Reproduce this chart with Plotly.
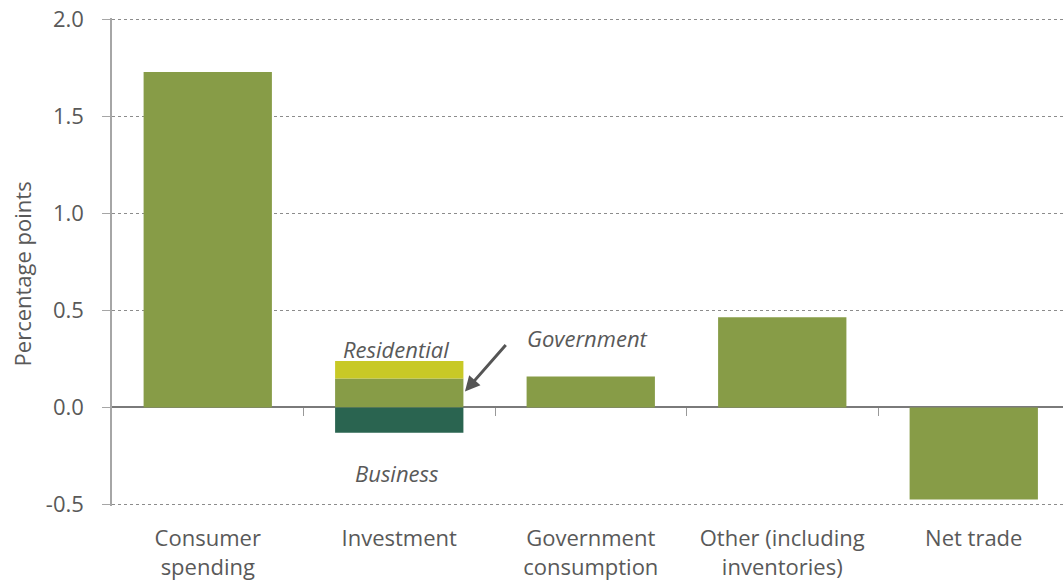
import plotly.graph_objects as go

categories = ["Consumer<br>spending", "Investment", "Government<br>consumption",
              "Other (including<br>inventories)", "Net trade"]
main_values = [1.73, 0.15, 0.16, 0.465, -0.475]
residential = [0, 0.09, 0, 0, 0]
business = [0, -0.13, 0, 0, 0]
y_ticks = [-0.5, 0.0, 0.5, 1.0, 1.5, 2.0]
y_tick_text = ["-0.5", "0.0", "0.5", "1.0", "1.5", "2.0"]
y_title = "Percentage points"

GREEN = "#879C47"
YELLOW = "#C8C926"
DARK = "#2A6450"
TXT = "#595959"
FONT = "Open Sans"
XRANGE = [-0.5, 4.466]

fig = go.Figure()
fig.add_trace(go.Bar(x=categories, y=main_values, marker_color=GREEN, marker_line_width=0))
fig.add_trace(go.Bar(x=categories, y=residential, marker_color=YELLOW, marker_line_width=0))
fig.add_trace(go.Bar(x=categories, y=business, marker_color=DARK, marker_line_width=0))

fig.update_layout(
    barmode="relative",
    bargap=0.33,
    width=1063, height=586,
    margin=dict(l=112, r=0, t=18.45, b=80.45),
    plot_bgcolor="white", paper_bgcolor="white",
    showlegend=False,
    font=dict(family=FONT, size=22, color=TXT),
    xaxis=dict(
        type="category", range=XRANGE, automargin=False,
        ticks="", showline=False, showgrid=False,
        tickfont=dict(size=22, color=TXT), ticklabelstandoff=17,
    ),
    # boundary tick marks drawn on the zero line
    xaxis2=dict(
        overlaying="x", anchor="free", position=0.508 / 2.516, range=XRANGE,
        tickmode="array", tickvals=[0.5, 1.5, 2.5, 3.5, 4.5],
        showticklabels=False, ticks="outside", ticklen=8, tickcolor="#999999",
        showgrid=False, zeroline=False, showline=False, automargin=False,
    ),
    yaxis=dict(
        range=[-0.508, 2.008], tickmode="array", tickvals=y_ticks, ticktext=y_tick_text,
        automargin=False, ticklabeloverflow="allow",
        showgrid=True, gridcolor="#8c8c8c", griddash="dot", gridwidth=1,
        zeroline=True, zerolinecolor="#7a7a7a", zerolinewidth=1.5,
        showline=True, linecolor="#a6a6a6", linewidth=1.5,
        ticks="outside", ticklen=8, tickcolor="#a6a6a6", ticklabelstandoff=14,
        tickfont=dict(size=22, color=TXT),
    ),
)
fig.add_trace(go.Scatter(x=[0], y=[None], xaxis="x2", showlegend=False, hoverinfo="skip"))

fig.add_annotation(x=-0.0946, xref="paper", y=0.686, yref="y", text=y_title,
                   xanchor="center", yanchor="middle",
                   textangle=-90, showarrow=False, font=dict(size=22, color=TXT))

ann_font = dict(family=FONT, size=22, color=TXT)
fig.add_annotation(x=0.983, y=0.304, text="<i>Residential</i>", showarrow=False, font=ann_font)
fig.add_annotation(x=1.983, y=0.36, text="<i>Government</i>", showarrow=False, font=ann_font)
fig.add_annotation(x=0.988, y=-0.34, text="<i>Business</i>", showarrow=False, font=ann_font)
fig.add_annotation(x=1.343, y=0.082, ax=1.563, ay=0.33, axref="x", ayref="y",
                   xref="x", yref="y", text="", showarrow=True,
                   arrowhead=2, arrowsize=1.0, arrowwidth=3, arrowcolor="#555555")

fig.write_html("out.html", config={"displayModeBar": False},
               post_script="document.body.style.margin='0';")
